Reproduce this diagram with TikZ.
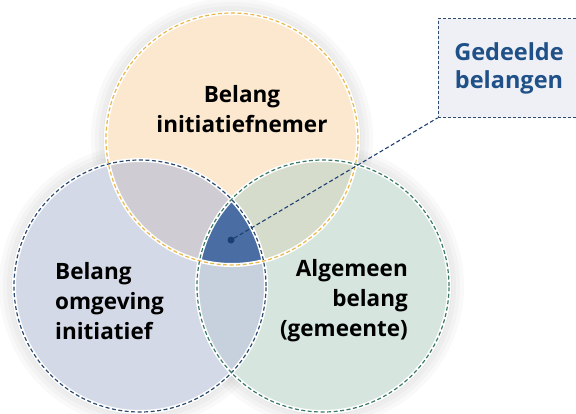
\documentclass[tikz,border=0pt]{standalone}
\usepackage{fontspec}
\setmainfont{Open Sans}
\usetikzlibrary{positioning}
\definecolor{peach}{HTML}{FBE8CF}
\definecolor{bluegrey}{HTML}{D4D9E7}
\definecolor{greengrey}{HTML}{D6E5DE}
\definecolor{peachblue}{HTML}{CFCCD3}
\definecolor{peachgreen}{HTML}{D6DCCB}
\definecolor{bluegreen}{HTML}{C6D1DD}
\definecolor{core}{HTML}{4A6DA4}
\definecolor{ringyellow}{HTML}{E9B84C}
\definecolor{ringblue}{HTML}{2E4B70}
\definecolor{ringgreen}{HTML}{3C7A68}
\definecolor{navy}{HTML}{1C3F72}
\definecolor{boxfill}{HTML}{EEF0F6}
\definecolor{boxtext}{HTML}{1F5087}
\tikzstyle{halo}=[draw=white, line width=4pt]
\tikzstyle{ring}=[line width=1.2pt, dash pattern=on 4pt off 2.5pt]
\tikzstyle{glow}=[fill=black, opacity=0.025]
\tikzstyle{lbl}=[font=\fontsize{22.5}{30}\selectfont\bfseries, inner sep=0pt]
\tikzstyle{leader}=[draw=navy, line width=1.1pt, dash pattern=on 4pt off 2.5pt]
\begin{document}
\begin{tikzpicture}[x=1pt, y=-1pt]
    \useasboundingbox (0,0) rectangle (576,413);
    \clip (0,0) rectangle (576,413);
    \coordinate (Ctop) at (232,139);
    \coordinate (Cleft) at (140,286);
    \coordinate (Cright) at (323,286);
    % soft shadow
    \foreach \c in {Ctop, Cleft, Cright}
        \foreach \r in {141pt, 137pt, 133pt, 129pt}
            \fill[glow] (\c) circle (\r);
    % fills
    \fill[peach] (Ctop) circle (126pt);
    \fill[bluegrey] (Cleft) circle (126pt);
    \fill[greengrey] (Cright) circle (126pt);
    \begin{scope}
        \clip (Ctop) circle (126pt);
        \fill[peachblue] (Cleft) circle (126pt);
        \fill[peachgreen] (Cright) circle (126pt);
    \end{scope}
    \begin{scope}
        \clip (Cleft) circle (126pt);
        \fill[bluegreen] (Cright) circle (126pt);
        \clip (Cright) circle (126pt);
        \fill[core] (Ctop) circle (126pt);
    \end{scope}
    % outlines
    \draw[halo] (Ctop) circle (126pt) (Cleft) circle (126pt) (Cright) circle (126pt);
    \draw[ring, ringblue] (Cleft) circle (126pt);
    \draw[ring, ringgreen] (Cright) circle (126pt);
    \draw[ring, ringyellow] (Ctop) circle (126pt);
    % labels
    \node[lbl, align=center] (topText) at (242,109) {Belang\\initiatiefnemer};
    \node[lbl, align=left, anchor=west] (leftText) at (55,301) {Belang\\omgeving\\initiatief};
    \node[lbl, align=right, anchor=east] (rightText) at (408,301) {Algemeen\\belang\\(gemeente)};
    \node[draw=ringblue, dash pattern=on 3pt off 2pt, line width=0.8pt, fill=boxfill, minimum width=142pt, minimum height=99pt,
          font=\fontsize{23.5}{28}\selectfont\bfseries, text=boxtext, align=center] (shared) at (509,68) {Gedeelde\\belangen};
    \node[circle, fill=navy, inner sep=0pt, minimum size=7pt] (dot) at (231,240) {};
    \draw[leader] (dot) -- (shared.south west);
\end{tikzpicture}
\end{document}
